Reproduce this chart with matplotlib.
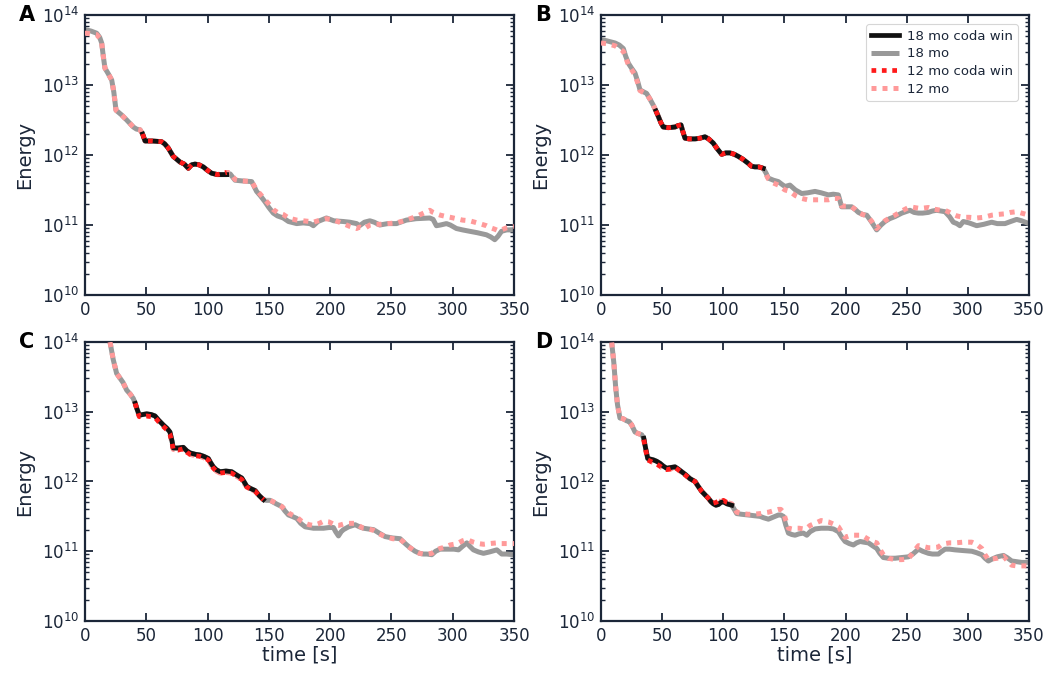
import matplotlib
matplotlib.use('Agg')
import matplotlib.pyplot as plt
import numpy as np
from matplotlib.ticker import LogLocator, NullFormatter, FixedLocator

# ---------------- data (log10 of energy) ----------------
t_A = [0, 1.4, 5, 9.5, 12, 13.6, 15, 16.3, 19, 21.8, 23.5, 25.3, 30, 34, 39.4, 42, 44.9, 47, 49, 55,
       62.5, 65, 67.9, 72, 77.5, 81, 84.3, 87, 89.7, 93, 96.5, 100, 103.3, 108, 115.6, 118.4, 122.4, 128,
       136, 140, 143, 146.9, 150, 153.6, 157, 161.8, 166, 172.7, 178, 183.6, 186.3, 190, 197, 203, 210.7,
       216, 221.6, 224, 228, 232.4, 236, 240.5, 247, 254.1, 262.2, 270, 281.3, 284, 286.7, 290, 294.9,
       298, 303, 308, 313.9, 320, 327.5, 331, 334.3, 337, 339.8, 344, 350]
e18_A = [13.79, 13.786, 13.77, 13.74, 13.68, 13.60, 13.40, 13.24, 13.16, 13.07, 12.90, 12.64, 12.57, 12.50,
         12.40, 12.37, 12.36, 12.30, 12.20, 12.20, 12.19, 12.16, 12.10, 11.98, 11.90, 11.87, 11.81, 11.86,
         11.87, 11.86, 11.83, 11.78, 11.74, 11.72, 11.72, 11.73, 11.64, 11.63, 11.62, 11.48, 11.42, 11.33,
         11.25, 11.17, 11.13, 11.10, 11.05, 11.02, 11.03, 11.02, 10.99, 11.05, 11.10, 11.06, 11.05, 11.04,
         11.02, 10.99, 11.04, 11.06, 11.04, 11.00, 11.02, 11.02, 11.07, 11.09, 11.10, 11.08, 10.99, 11.00,
         11.02, 11.00, 10.95, 10.93, 10.91, 10.89, 10.86, 10.83, 10.79, 10.84, 10.91, 10.93, 10.93]
e12_A = [13.74, 13.74, 13.73, 13.72, 13.67,
         13.60, 13.40, 13.24, 13.16, 13.07, 12.90, 12.64,
         12.57, 12.50, 12.40, 12.37, 12.36, 12.30, 12.20, 12.20, 12.19, 12.16, 12.10, 11.98, 11.90, 11.87,
         11.81, 11.86, 11.87, 11.86, 11.83, 11.78, 11.74, 11.72, 11.75, 11.75, 11.65, 11.63,
         11.62, 11.50, 11.44, 11.36, 11.30, 11.22, 11.18, 11.15, 11.10, 11.07, 11.06, 11.05, 11.04, 11.06,
         11.09, 11.07, 11.02, 10.98, 10.95, 10.97, 10.95, 11.00, 11.01, 11.01, 11.02, 11.03, 11.07, 11.12,
         11.21, 11.18, 11.16, 11.14, 11.12, 11.11, 11.09, 11.07, 11.06, 11.03, 10.99, 10.96, 10.94, 10.92,
         10.93, 10.96, 10.98]

t_B = [0, 5, 11.5, 15, 18.3, 20, 22.4, 25, 27.8, 30,
       31.9, 35, 37.3, 40, 42.8, 44.9, 46.9, 49, 50.9, 55,
       60.5, 63, 65.4, 67, 68.7, 72, 76.8, 81, 85, 88,
       91.8, 95, 98.7, 102, 105.5, 109, 112.3, 116, 120.5, 123,
       125.9, 129, 132.7, 135, 136.8, 141, 145, 148, 150.5, 154.5,
       159, 164.1, 169, 175, 180, 185.9, 190, 194.1, 196.8, 201,
       205, 208, 210.5, 214, 217.3, 221, 225.4, 229, 232.2, 236,
       240.4, 246, 252.6, 256, 259.5, 263, 267.7, 271, 274.5, 278,
       281.3, 285, 288.1, 291, 293.5, 296.3, 301, 307.2, 313, 319.5,
       324, 330.4, 335, 339.9, 344, 350]
e18_B = [13.65, 13.63, 13.60, 13.57, 13.52, 13.42, 13.31, 13.24, 13.17, 13.05,
         12.93, 12.90, 12.88, 12.80, 12.71, 12.63, 12.55, 12.46, 12.40, 12.39,
         12.40, 12.42, 12.43, 12.33, 12.24, 12.23, 12.23, 12.24, 12.26, 12.23,
         12.17, 12.09, 12.01, 12.03, 12.03, 12.01, 11.98, 11.94, 11.88, 11.84,
         11.83, 11.83, 11.81, 11.74, 11.67, 11.64, 11.62, 11.58, 11.55, 11.57,
         11.50, 11.45, 11.46, 11.48, 11.46, 11.43, 11.44, 11.43, 11.26, 11.26,
         11.26, 11.22, 11.18, 11.15, 11.14, 11.05, 10.93, 11.00, 11.05, 11.09,
         11.12, 11.17, 11.21, 11.18, 11.17, 11.17, 11.18, 11.20, 11.21, 11.20,
         11.19, 11.12, 11.04, 11.02, 10.99, 11.05, 11.03, 10.99, 11.01, 11.04,
         11.02, 11.02, 11.05, 11.08, 11.06, 11.02]
e12_B = [13.60, 13.59, 13.56, 13.52, 13.48, 13.40, 13.29, 13.22, 13.14, 13.03,
         12.92, 12.89, 12.87, 12.80, 12.71, 12.63, 12.55, 12.46, 12.40, 12.39,
         12.40, 12.42, 12.43, 12.33, 12.24, 12.23, 12.23, 12.24, 12.26, 12.23,
         12.17, 12.09, 12.01, 12.03, 12.03, 12.01, 11.98, 11.94, 11.88, 11.84,
         11.83, 11.83, 11.81, 11.72, 11.66, 11.60, 11.57, 11.53, 11.50, 11.48,
         11.42, 11.38, 11.36, 11.36, 11.36, 11.36, 11.38, 11.38, 11.27, 11.27,
         11.26, 11.22, 11.18, 11.15, 11.13, 11.06, 10.95, 11.01, 11.06, 11.10,
         11.14, 11.20, 11.26, 11.25, 11.24, 11.24, 11.25, 11.23, 11.22, 11.21,
         11.21, 11.18, 11.15, 11.13, 11.12, 11.11, 11.11, 11.10, 11.11, 11.14,
         11.15, 11.16, 11.18, 11.19, 11.17, 11.14]

t_C = [18, 20.4, 23, 25.8, 28.6, 31, 34, 37, 39.4, 41,
       42.2, 44.3, 47, 50.3, 54, 57.1, 60, 63.9, 67, 69.3,
       71, 72, 76, 80.2, 83, 85.6, 90, 93.8, 97, 100.6,
       102.5, 104.7, 107, 110.2, 115, 119.7, 124, 127.9, 130, 132,
       135, 138.8, 142, 145.6, 148, 151, 156, 160.6, 163, 166,
       169, 172.8, 176, 179.6, 183, 186.4, 190, 194.6, 199, 202.7,
       204.5, 206.8, 209, 210.9, 215, 220.4, 224, 227.2, 231, 235.4,
       240, 244.9, 251, 257.1, 260, 262.5, 266, 269.3, 273, 276.1,
       279, 282.9, 286, 289.7, 294, 297.9, 301, 304.7, 308, 311.5,
       314, 316.9, 321, 325.1, 330, 336, 338, 340, 344, 350]
e18_C = [14.15, 14.00, 13.75, 13.55, 13.48, 13.42, 13.31, 13.25, 13.19, 13.12,
         13.05, 12.95, 12.96, 12.97, 12.96, 12.94, 12.88, 12.81, 12.76, 12.71,
         12.58, 12.48, 12.48, 12.49, 12.44, 12.41, 12.39, 12.38, 12.36, 12.33,
         12.27, 12.21, 12.17, 12.14, 12.15, 12.14, 12.09, 12.05, 11.99, 11.93,
         11.90, 11.87, 11.80, 11.74, 11.73, 11.73, 11.68, 11.64, 11.58, 11.52,
         11.50, 11.47, 11.40, 11.35, 11.34, 11.33, 11.33, 11.33, 11.34, 11.34,
         11.28, 11.22, 11.28, 11.31, 11.35, 11.38, 11.35, 11.33, 11.32, 11.31,
         11.26, 11.21, 11.19, 11.18, 11.13, 11.09, 11.04, 11.00, 10.97, 10.96,
         10.96, 10.95, 11.00, 11.03, 11.03, 11.03, 11.03, 11.02, 11.07, 11.12,
         11.07, 11.02, 10.99, 10.97, 10.99, 11.02, 10.99, 10.96, 10.96, 10.95]
e12_C = [14.15, 14.00, 13.75, 13.55, 13.48, 13.42, 13.31, 13.25, 13.19, 13.12,
         13.04, 12.93, 12.93, 12.94, 12.93, 12.92, 12.86, 12.79, 12.74, 12.68,
         12.55, 12.46, 12.45, 12.47, 12.42, 12.39, 12.37, 12.36, 12.34, 12.31,
         12.25, 12.19, 12.15, 12.12, 12.13, 12.12, 12.07, 12.03, 11.97, 11.92,
         11.89, 11.86, 11.80, 11.74, 11.73, 11.73, 11.69, 11.64, 11.60, 11.55,
         11.52, 11.49, 11.44, 11.40, 11.38, 11.37, 11.39, 11.43, 11.42, 11.39,
         11.37, 11.37, 11.38, 11.39, 11.40, 11.40, 11.36, 11.33, 11.32, 11.30,
         11.25, 11.21, 11.18, 11.17, 11.13, 11.08, 11.04, 11.00, 10.97, 10.96,
         10.96, 10.97, 11.01, 11.04, 11.06, 11.09, 11.10, 11.12, 11.15, 11.17,
         11.15, 11.13, 11.11, 11.10, 11.11, 11.12, 11.11, 11.11, 11.11, 11.11]

t_D = [8, 8.7, 10.5, 12, 13.5, 15.5, 18, 21, 23, 25.1,
       27.8, 30, 33.3, 35, 36, 38.2, 40.5, 42.8, 45.5, 48.3,
       51, 53.7, 57, 60.5, 63, 66, 69, 72.8, 76.9, 79.5,
       82.3, 85, 87.8, 90, 91.9, 94, 96, 98, 100.1, 103,
       106.9, 109, 111, 115, 120.5, 125, 130.1, 133, 136.9, 141,
       145.1, 147, 149.2, 151, 153.3, 156, 158.7, 162, 165.5, 168.3,
       171, 175.1, 180, 186, 190, 194.2, 197, 199.6, 203, 206.4,
       209, 211.9, 215, 218.7, 222, 225.5, 228, 230.9, 235, 240.5,
       246, 251.4, 255, 259.6, 263, 267.8, 271, 275.9, 278, 281.4,
       285, 289.5, 296, 303.2, 307, 311.4, 314, 316.8, 320, 324,
       329.1, 332, 335.9, 340, 344, 350]
e18_D = [14.15, 14.00, 13.70, 13.35, 13.10, 12.91, 12.90, 12.87, 12.86, 12.81,
         12.71, 12.69, 12.67, 12.62, 12.52, 12.33, 12.32, 12.31, 12.29, 12.26,
         12.22, 12.19, 12.20, 12.21, 12.18, 12.14, 12.10, 12.04, 12.00, 11.93,
         11.86, 11.81, 11.76, 11.71, 11.68, 11.66, 11.67, 11.70, 11.71, 11.68,
         11.66, 11.60, 11.54, 11.53, 11.52, 11.51, 11.50, 11.48, 11.46, 11.49,
         11.52, 11.52, 11.50, 11.38, 11.26, 11.24, 11.23, 11.25, 11.26, 11.23,
         11.28, 11.32, 11.33, 11.33, 11.32, 11.28, 11.20, 11.14, 11.11, 11.09,
         11.12, 11.14, 11.13, 11.12, 11.08, 11.04, 10.97, 10.91, 10.90, 10.90,
         10.91, 10.92, 10.96, 11.03, 11.00, 10.97, 10.96, 10.96, 10.99, 11.03,
         11.03, 11.02, 11.01, 11.00, 10.98, 10.95, 10.90, 10.86, 10.89, 10.92,
         10.94, 10.91, 10.86, 10.85, 10.84, 10.84]
e12_D = [14.15, 14.00, 13.70, 13.35, 13.10, 12.91, 12.90, 12.87, 12.86, 12.81,
         12.71, 12.69, 12.67, 12.60, 12.50, 12.31, 12.29, 12.27, 12.25, 12.22,
         12.18, 12.17, 12.18, 12.20, 12.17, 12.13, 12.09, 12.04, 12.00, 11.93,
         11.86, 11.81, 11.76, 11.71, 11.69, 11.70, 11.72, 11.71, 11.73, 11.70,
         11.68, 11.62, 11.56, 11.54, 11.53, 11.53, 11.54, 11.55, 11.56, 11.58,
         11.60, 11.60, 11.56, 11.45, 11.33, 11.32, 11.33, 11.33, 11.32, 11.33,
         11.37, 11.40, 11.44, 11.42, 11.39, 11.35, 11.27, 11.20, 11.22, 11.23,
         11.23, 11.23, 11.21, 11.17, 11.14, 11.12, 11.03, 10.95, 10.90, 10.88,
         10.88, 10.89, 10.98, 11.08, 11.07, 11.05, 11.05, 11.06, 11.09, 11.11,
         11.12, 11.12, 11.13, 11.13, 11.10, 11.04, 10.95, 10.88, 10.89, 10.90,
         10.93, 10.87, 10.80, 10.79, 10.79, 10.79]

coda_win = {'A': (45, 116), 'B': (44, 133), 'C': (41, 147), 'D': (35, 107)}
panels = ['A', 'B', 'C', 'D']
series = {'A': (t_A, e18_A, e12_A), 'B': (t_B, e18_B, e12_B),
          'C': (t_C, e18_C, e12_C), 'D': (t_D, e18_D, e12_D)}
legend_labels = ['18 mo coda win', '18 mo', '12 mo coda win', '12 mo']
xticks = [0, 50, 100, 150, 200, 250, 300, 350]
yticks = [1e10, 1e11, 1e12, 1e13, 1e14]

# ---------------- style ----------------
INK = '#1b2638'
plt.rcParams['font.family'] = ['DejaVu Sans']
plt.rcParams['mathtext.fontset'] = 'dejavusans'

fig = plt.figure(figsize=(10.51, 6.73), dpi=100)
rects = {
    'A': [85 / 1051, 1 - 295 / 673, 429 / 1051, 280 / 673],
    'B': [601 / 1051, 1 - 295 / 673, 428 / 1051, 280 / 673],
    'C': [85 / 1051, 1 - 621 / 673, 429 / 1051, 279 / 673],
    'D': [601 / 1051, 1 - 621 / 673, 428 / 1051, 279 / 673],
}

for p in panels:
    ax = fig.add_axes(rects[p])
    t, e18, e12 = series[p]
    t = np.asarray(t, float)
    E18 = 10 ** np.asarray(e18, float)
    E12 = 10 ** np.asarray(e12, float)
    lo, hi = coda_win[p]
    m = (t >= lo) & (t <= hi)

    ax.plot(t, E18, color='#999999', lw=3.6, solid_capstyle='butt', zorder=2, label=legend_labels[1])
    ax.plot(t, E12, color='#ff9a9a', lw=3.6, ls=(0, (1, 1.2)), zorder=3, label=legend_labels[3])
    ax.plot(t[m], E18[m], color='#111111', lw=3.4, zorder=4, label=legend_labels[0])
    ax.plot(t[m], E12[m], color='#ff1a1a', lw=3.4, ls=(0, (1, 1.2)), zorder=5, label=legend_labels[2])

    ax.set_yscale('log')
    ax.set_xlim(0, 350)
    ax.set_ylim(1e10, 1e14)
    ax.xaxis.set_major_locator(FixedLocator(xticks))
    ax.yaxis.set_major_locator(FixedLocator(yticks))
    ax.yaxis.set_minor_locator(LogLocator(base=10, subs=np.arange(2, 10)))
    ax.yaxis.set_minor_formatter(NullFormatter())
    ax.tick_params(which='both', direction='in', top=True, right=True, colors=INK, labelsize=12)
    ax.tick_params(which='major', length=6, width=1.3, pad=4)
    ax.tick_params(which='minor', length=3, width=1.0)
    for s in ax.spines.values():
        s.set_color(INK)
        s.set_linewidth(1.6)
    ax.set_ylabel('Energy', fontsize=14, color=INK, labelpad=6)
    if p in ('C', 'D'):
        ax.set_xlabel('time [s]', fontsize=14, color=INK, labelpad=1)
    ax.text(-0.155, 1.0, p, transform=ax.transAxes, fontsize=15, fontweight='bold',
            color='black', ha='left', va='center')
    if p == 'B':
        h, l = ax.get_legend_handles_labels()
        order = [2, 0, 3, 1]
        leg = ax.legend([h[i] for i in order], [l[i] for i in order], loc='upper right',
                        fontsize=9.5, frameon=True, handlelength=2.1, borderpad=0.4,
                        labelspacing=0.35, handletextpad=0.6, bbox_to_anchor=(0.99, 0.99))
        leg.get_frame().set_edgecolor('#cccccc')
        leg.get_frame().set_linewidth(0.8)
        for txt in leg.get_texts():
            txt.set_color(INK)

fig.savefig('out.png', dpi=100)
